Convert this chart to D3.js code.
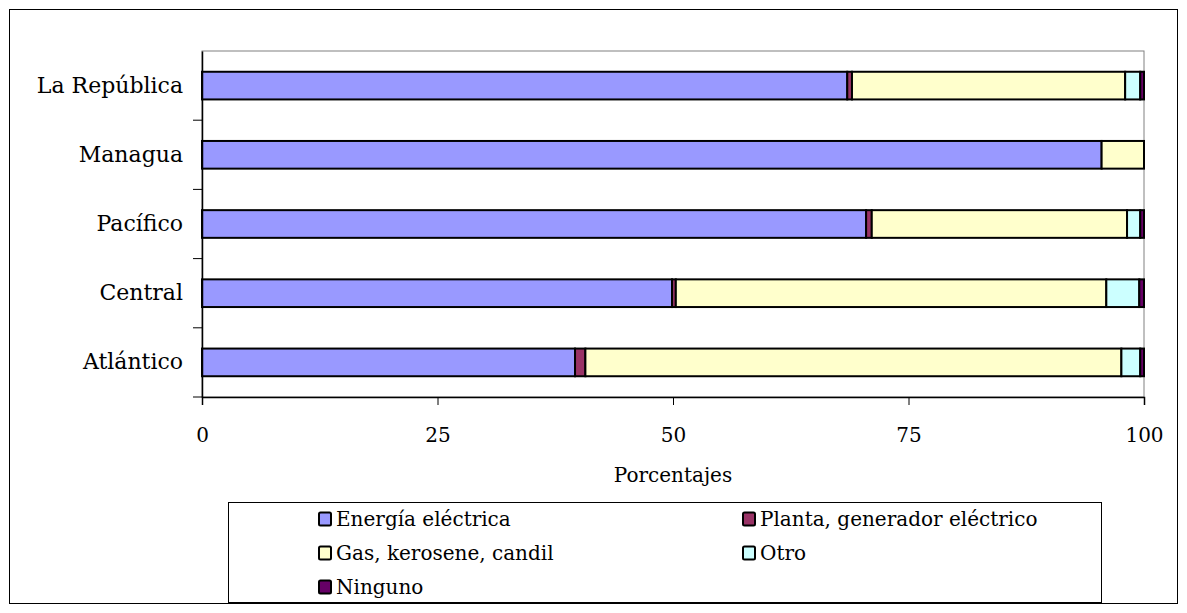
<!DOCTYPE html>
<html><head><meta charset="utf-8">
<script src="https://cdn.jsdelivr.net/npm/d3@7"></script>
<style>body{margin:0;background:#fff;} svg{display:block;} svg text{font-family:'DejaVu Serif',serif !important;fill:#000;}</style>
</head><body>
<script>
const categories = ["La República","Managua","Pacífico","Central","Atlántico"];
const seriesNames = ["Energía eléctrica","Planta, generador eléctrico","Gas, kerosene, candil","Otro","Ninguno"];
const energia  = [68.5, 95.5, 70.5, 49.9, 39.6];
const planta   = [0.5, 0.0, 0.6, 0.4, 1.1];
const gas      = [29.0, 4.5, 27.1, 45.7, 56.9];
const otro     = [1.6, 0.0, 1.4, 3.5, 2.0];
const ninguno  = [0.4, 0.0, 0.4, 0.5, 0.4];
const colors = ["#9999ff","#993366","#ffffcc","#ccffff","#660066"];
const xTicks = [0,25,50,75,100];

const W=1187,H=613;
const svg=d3.select("body").append("svg").attr("width",W).attr("height",H);
svg.append("rect").attr("x",9.5).attr("y",9.5).attr("width",1168).attr("height",594).attr("fill","#fff").attr("stroke","#000");

const L=202,R=1144,T=51,B=397;
const x=d3.scaleLinear().domain([0,100]).range([L,R]);
const y=d3.scaleBand().domain(categories).range([T,B]).paddingInner(0.6).paddingOuter(0.3);

svg.append("rect").attr("x",L).attr("y",T).attr("width",R-L).attr("height",B-T).attr("fill","none").attr("stroke","#808080");

const data=categories.map((c,i)=>({cat:c,Energía:energia[i],Planta:planta[i],Gas:gas[i],Otro:otro[i],Ninguno:ninguno[i]}));
const keys=["Energía","Planta","Gas","Otro","Ninguno"];
const stack=d3.stack().keys(keys)(data);
stack.forEach((s,k)=>{
  svg.append("g").selectAll("rect").data(s.filter(d=>d[1]-d[0]>0)).join("rect")
    .attr("x",d=>x(d[0])).attr("y",d=>y(d.data.cat))
    .attr("width",d=>x(d[1])-x(d[0])).attr("height",y.bandwidth())
    .attr("fill",colors[k]).attr("stroke","#000").attr("stroke-width",2);
});

// x axis
const xa=svg.append("g").attr("transform",`translate(0,${B})`)
  .call(d3.axisBottom(x).tickValues(xTicks).tickSize(8).tickFormat(d3.format("d")));
xa.select(".domain").attr("stroke","#000").attr("stroke-width",1.5);
xa.selectAll("line").attr("stroke","#000");
xa.selectAll("text").attr("font-size",20).attr("dy","1.7em");

// y axis
const ya=svg.append("g").attr("transform",`translate(${L},0)`)
  .call(d3.axisLeft(y).tickSize(0).tickPadding(19));
ya.select(".domain").attr("stroke","#000").attr("stroke-width",1.5);
ya.selectAll("text").attr("font-size",22);
const bounds=d3.range(categories.length+1).map(i=>T+i*(B-T)/categories.length);
svg.append("g").selectAll("line").data(bounds.slice(1)).join("line")
  .attr("x1",L-9).attr("x2",L).attr("y1",d=>d).attr("y2",d=>d).attr("stroke","#000");

svg.append("text").attr("x",(L+R)/2).attr("y",482).attr("text-anchor","middle")
  .attr("font-size",20).text("Porcentajes");

// legend
svg.append("rect").attr("x",228.5).attr("y",502.5).attr("width",873).attr("height",100).attr("fill","#fff").attr("stroke","#000");
const legPos=[[318,519],[742,519],[318,553],[742,553],[318,587]];
seriesNames.forEach((n,i)=>{
  const [lx,ly]=legPos[i];
  svg.append("rect").attr("x",lx+1).attr("y",ly-6.5).attr("width",12).attr("height",13).attr("rx",1.5)
    .attr("fill",colors[i]).attr("stroke","#000").attr("stroke-width",2);
  svg.append("text").attr("x",lx+18).attr("y",ly).attr("dy","0.35em")
    .attr("font-size",20).text(n);
});
</script>
</body></html>
